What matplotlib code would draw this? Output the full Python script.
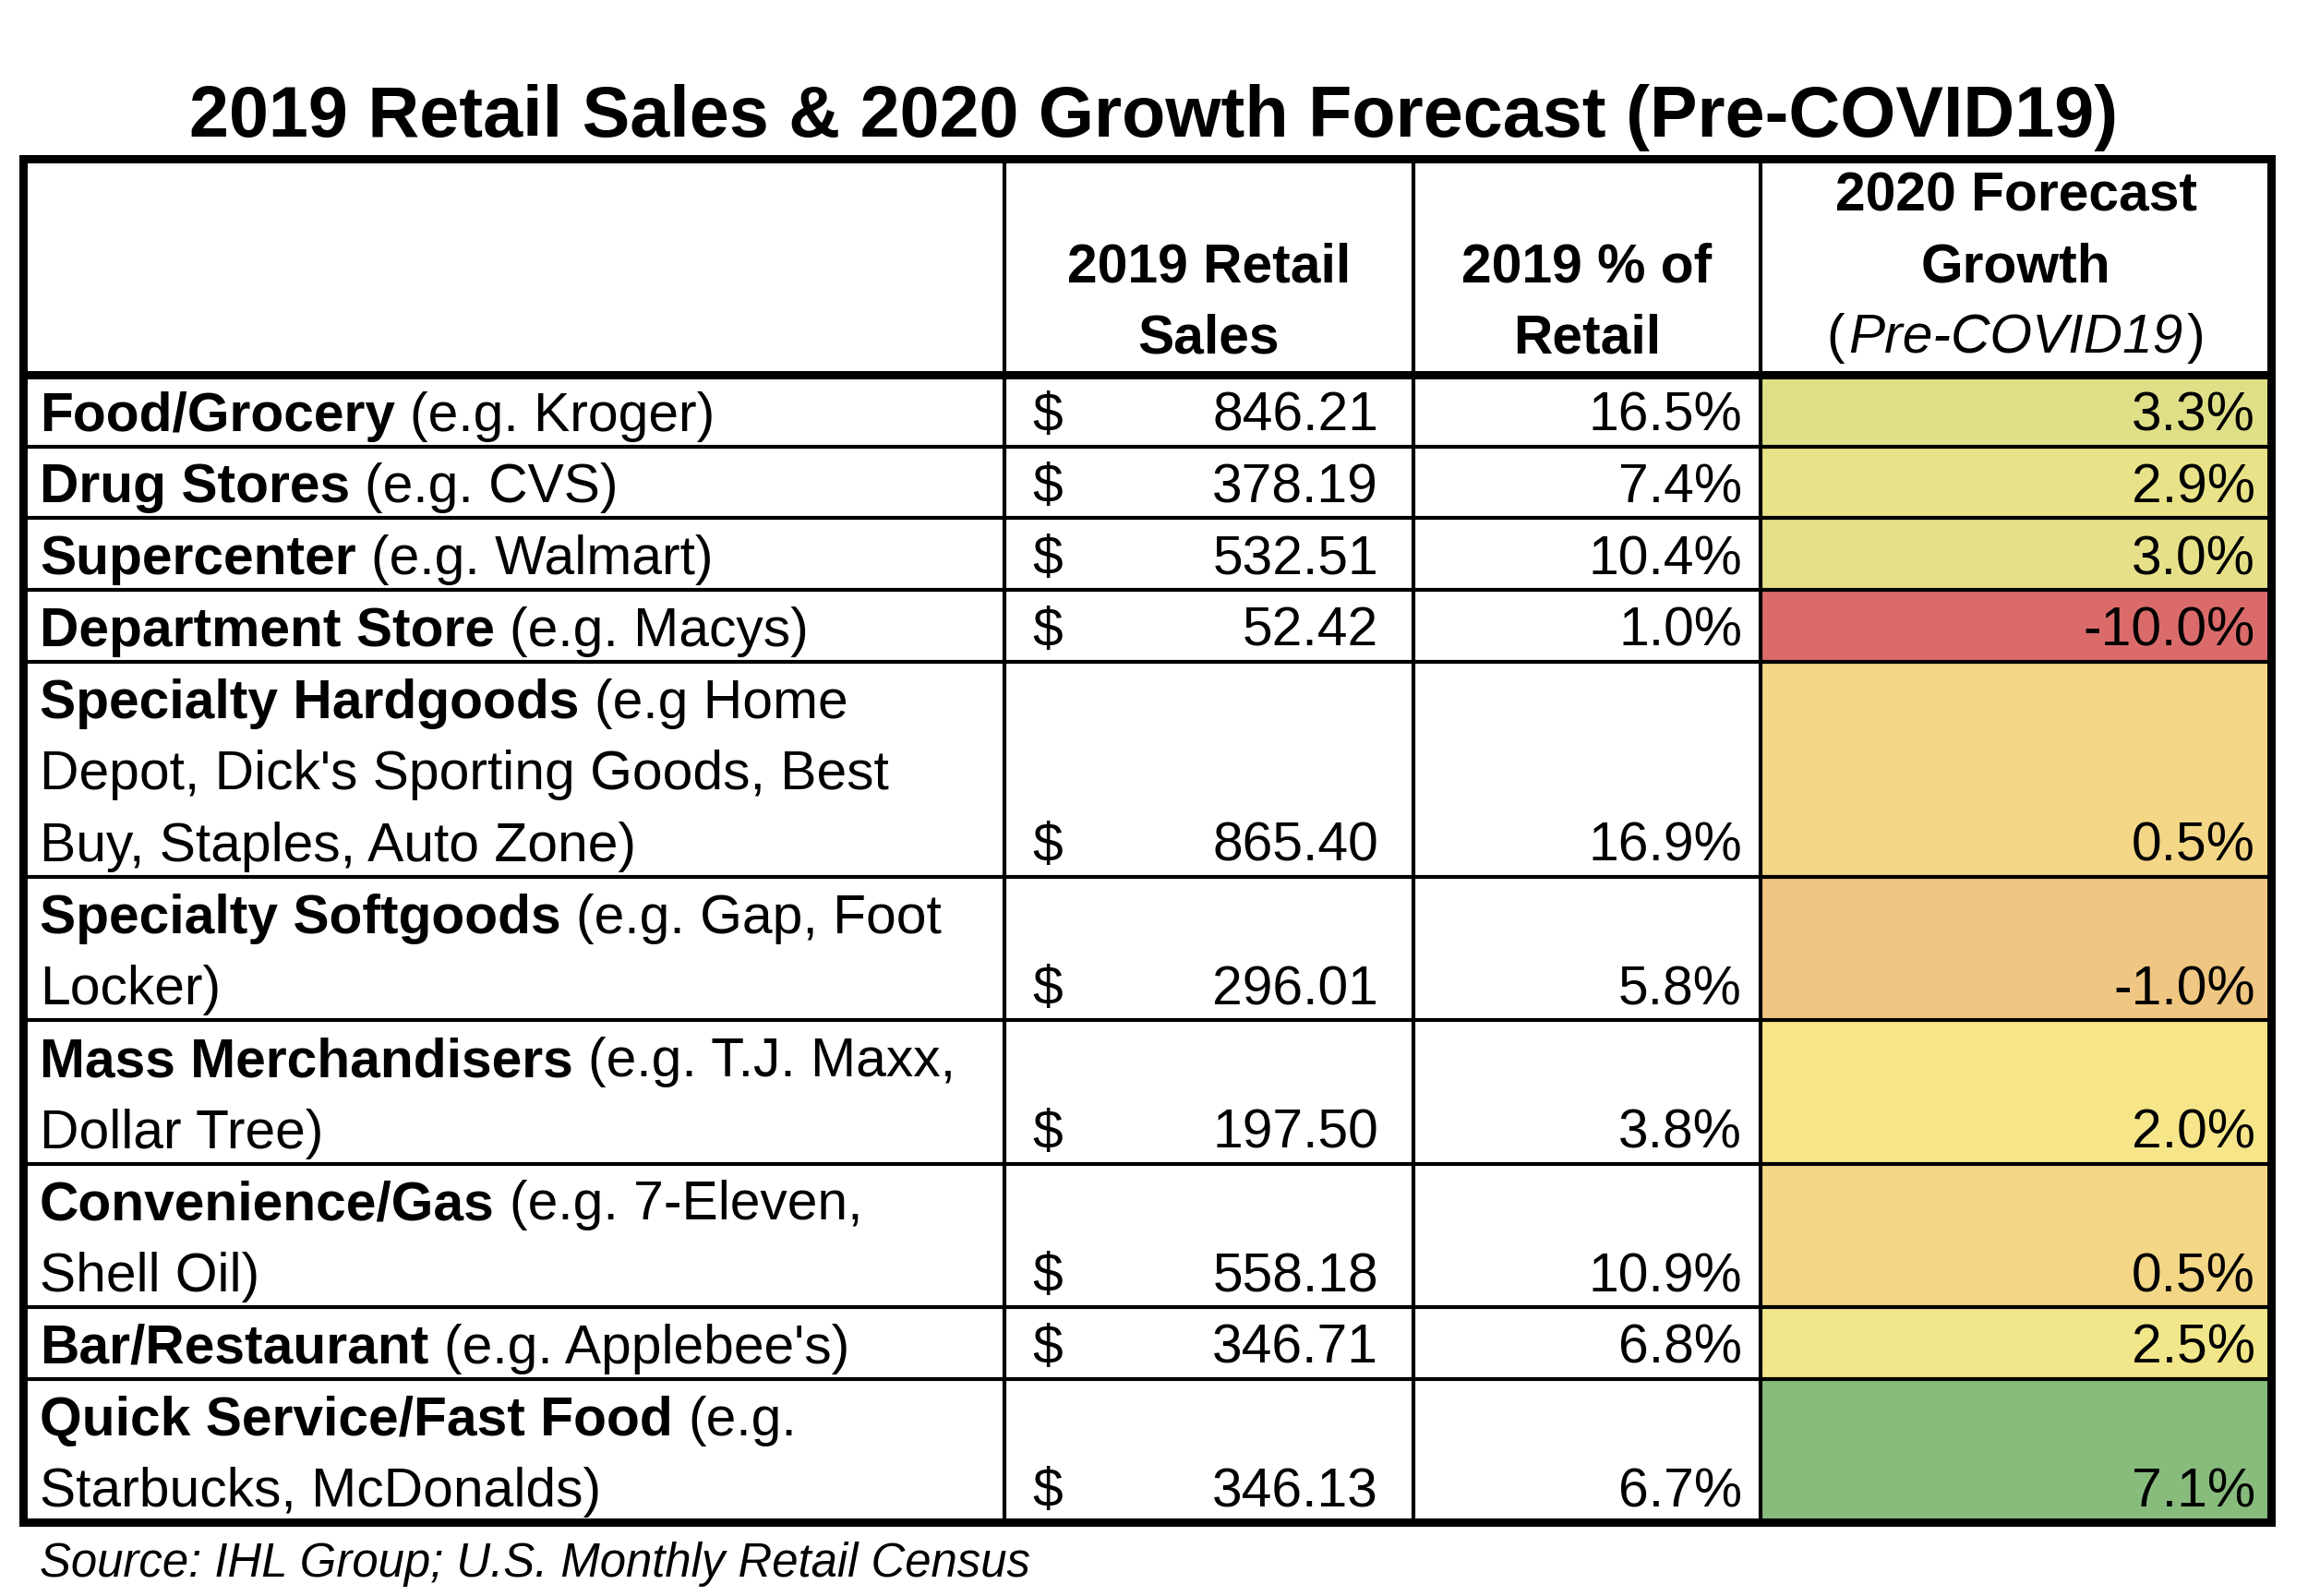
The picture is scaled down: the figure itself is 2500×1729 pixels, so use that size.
import matplotlib
matplotlib.use("Agg")
import numpy as np
import matplotlib.pyplot as plt
from matplotlib.patches import Rectangle
from matplotlib.colors import LinearSegmentedColormap, TwoSlopeNorm

plt.rcParams['font.family'] = ['Liberation Sans', 'DejaVu Sans']

# --- data -------------------------------------------------------------
title = "2019 Retail Sales & 2020 Growth Forecast (Pre-COVID19)"
source = "Source: IHL Group; U.S. Monthly Retail Census"

header_sales = ["2019 Retail", "Sales"]
header_share = ["2019 % of", "Retail"]
header_growth = ["2020 Forecast", "Growth"]
header_growth_note = "Pre-COVID19"

categories = ["Food/Grocery", "Drug Stores", "Supercenter", "Department Store",
              "Specialty Hardgoods", "Specialty Softgoods", "Mass Merchandisers",
              "Convenience/Gas", "Bar/Restaurant", "Quick Service/Fast Food"]
examples = [["(e.g. Kroger)"],
            ["(e.g. CVS)"],
            ["(e.g. Walmart)"],
            ["(e.g. Macys)"],
            ["(e.g Home", "Depot, Dick's Sporting Goods, Best", "Buy, Staples, Auto Zone)"],
            ["(e.g. Gap, Foot", "Locker)"],
            ["(e.g. T.J. Maxx,", "Dollar Tree)"],
            ["(e.g. 7-Eleven,", "Shell Oil)"],
            ["(e.g. Applebee's)"],
            ["(e.g.", "Starbucks, McDonalds)"]]
sales = [846.21, 378.19, 532.51, 52.42, 865.40, 296.01, 197.50, 558.18, 346.71, 346.13]
share = [16.5, 7.4, 10.4, 1.0, 16.9, 5.8, 3.8, 10.9, 6.8, 6.7]
growth = [3.3, 2.9, 3.0, -10.0, 0.5, -1.0, 2.0, 0.5, 2.5, 7.1]

# --- layout -----------------------------------------------------------
W, H = 2500, 1729
fig = plt.figure(figsize=(W / 100, H / 100), dpi=100)
ax = fig.add_axes([0, 0, 1, 1])
ax.set_xlim(0, W)
ax.set_ylim(H, 0)
ax.axis('off')
renderer = fig.canvas.get_renderer()

BODY = 42.3
TITLE = 55.7
SRC = 36.6
LH = 77.7          # height of one text line in a cell
TOP = 172
cols = [25, 1088, 1531, 1907, 2460]
PAD = 17           # baseline offset above bottom of a cell
THICK = 6.5
THIN = 3.0

# row edges
edges = [TOP, TOP + 3 * 78]
for ex in examples:
    edges.append(edges[-1] + LH * len(ex))
bottom = edges[-1]

# colour scale, like Excel's red-yellow-green 3-colour scale
cmap = LinearSegmentedColormap.from_list("ryg", ["#DB6B6B", "#F7E88A", "#87BC7D"])
norm = TwoSlopeNorm(vmin=min(growth), vcenter=float(np.median(growth)), vmax=max(growth))

for i, g in enumerate(growth):
    y0, y1 = edges[i + 1], edges[i + 2]
    ax.add_patch(Rectangle((cols[3], y0), cols[4] - cols[3], y1 - y0,
                           facecolor=cmap(norm(g)), edgecolor='none', zorder=1))

# grid lines
for y in edges[2:-1]:
    ax.plot([cols[0], cols[4]], [y, y], color='black', lw=THIN, zorder=2,
            solid_capstyle='butt')
ax.plot([cols[0], cols[4]], [edges[1], edges[1]], color='black', lw=THICK, zorder=3,
        solid_capstyle='butt')
for x in cols[1:4]:
    ax.plot([x, x], [TOP, bottom], color='black', lw=THIN, zorder=2,
            solid_capstyle='butt')
ax.add_patch(Rectangle((cols[0], TOP), cols[4] - cols[0], bottom - TOP,
                       facecolor='none', edgecolor='black', lw=THICK,
                       joinstyle='miter', zorder=4))

# title and source
ax.text(W / 2, 148, title, fontsize=TITLE, fontweight='bold',
        ha='center', va='baseline', zorder=5)
ax.text(43, 1708, source, fontsize=SRC, fontstyle='italic',
        ha='left', va='baseline', zorder=5)

# header
hb = edges[1] - 24
for lines, c0, c1 in [(header_sales, cols[1], cols[2]),
                      (header_share, cols[2], cols[3]),
                      (header_growth, cols[3], cols[4])]:
    n = len(lines) + (1 if lines is header_growth else 0)
    for k, s in enumerate(lines):
        ax.text((c0 + c1) / 2, hb - 77 * (n - 1 - k), s, fontsize=BODY,
                fontweight='bold', ha='center', va='baseline', zorder=5)

# "(Pre-COVID19)" with italic middle
pieces = [("(", 'normal'), (header_growth_note, 'italic'), (")", 'normal')]
arts = [ax.text(0, hb, s, fontsize=BODY, fontstyle=st, ha='left', va='baseline',
                zorder=5) for s, st in pieces]
ws = [a.get_window_extent(renderer).width for a in arts]
gap = 4
x = (cols[3] + cols[4]) / 2 - (sum(ws) + gap * 2) / 2
for a, w in zip(arts, ws):
    a.set_x(x)
    x += w + gap

# body rows
space = 0.278 * BODY * 100 / 72
for i, cat in enumerate(categories):
    n = len(examples[i])
    base = edges[i + 2] - PAD
    first = base - LH * (n - 1)
    b = ax.text(43, first, cat, fontsize=BODY, fontweight='bold',
                ha='left', va='baseline', zorder=5)
    wb = b.get_window_extent(renderer).width
    ax.text(43 + wb + space, first, examples[i][0], fontsize=BODY,
            ha='left', va='baseline', zorder=5)
    for k, s in enumerate(examples[i][1:], start=1):
        ax.text(43, first + LH * k, s, fontsize=BODY,
                ha='left', va='baseline', zorder=5)

    ax.text(1118, base, "$", fontsize=BODY, ha='left', va='baseline', zorder=5)
    ax.text(1493, base, f"{sales[i]:,.2f}", fontsize=BODY, ha='right',
            va='baseline', zorder=5)
    ax.text(1887, base, f"{share[i]:.1f}%", fontsize=BODY, ha='right',
            va='baseline', zorder=5)
    ax.text(2443, base, f"{growth[i]:.1f}%", fontsize=BODY, ha='right',
            va='baseline', zorder=5)

fig.savefig("out.png", dpi=100, facecolor='white')
